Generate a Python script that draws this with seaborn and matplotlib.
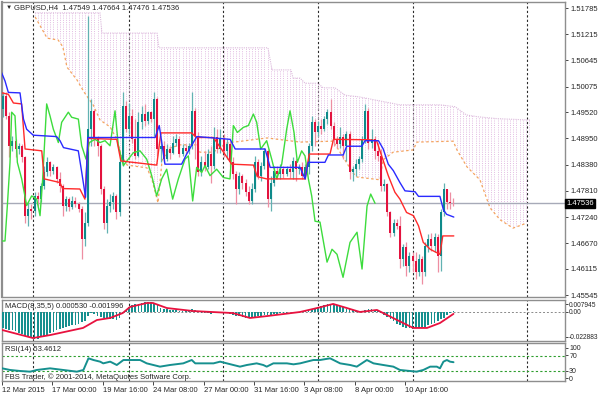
import matplotlib
matplotlib.use('Agg')

import numpy as np
import matplotlib.pyplot as plt
import matplotlib.transforms as mtransforms
import seaborn as sns

# ==========================================
# DATA
# ==========================================
bar_open = [1.4959, 1.4988, 1.4944, 1.4879, 1.4890, 1.4872, 1.4879, 1.4854, 1.4727, 1.4741,
            1.4738, 1.4770, 1.4763, 1.4792, 1.4821, 1.4843, 1.4825, 1.4832, 1.4807, 1.4792,
            1.4749, 1.4763, 1.4745, 1.4759, 1.4752, 1.4741, 1.4676, 1.4712, 1.4915, 1.4955,
            1.4893, 1.4879, 1.4785, 1.4712, 1.4749, 1.4756, 1.4770, 1.4734, 1.4843, 1.4966,
            1.4915, 1.4944, 1.4893, 1.4857, 1.4930, 1.4948, 1.4933, 1.4952, 1.4937, 1.4981,
            1.4872, 1.4879, 1.4850, 1.4872, 1.4864, 1.4886, 1.4893, 1.4861, 1.4875, 1.4868,
            1.4879, 1.4955, 1.4901, 1.4821, 1.4843, 1.4832, 1.4861, 1.4836, 1.4897, 1.4872,
            1.4893, 1.4868, 1.4883, 1.4843, 1.4817, 1.4785, 1.4814, 1.4799, 1.4778, 1.4759,
            1.4785, 1.4843, 1.4814, 1.4836, 1.4868, 1.4763, 1.4799, 1.4825, 1.4817, 1.4828,
            1.4817, 1.4828, 1.4821, 1.4846, 1.4828, 1.4832, 1.4814, 1.4832, 1.4879, 1.4930,
            1.4908, 1.4923, 1.4915, 1.4937, 1.4952, 1.4923, 1.4893, 1.4883, 1.4897, 1.4879,
            1.4904, 1.4821, 1.4828, 1.4839, 1.4850, 1.4893, 1.4955, 1.4886, 1.4893, 1.4868,
            1.4857, 1.4792, 1.4796, 1.4734, 1.4690, 1.4712, 1.4705, 1.4633, 1.4658, 1.4618,
            1.4640, 1.4629, 1.4604, 1.4633, 1.4604, 1.4662, 1.4676, 1.4662, 1.4680, 1.4640,
            1.4734, 1.4785, 1.4756, 1.47549]
bar_high = [1.4995, 1.4995, 1.4952, 1.4901, 1.4893, 1.4886, 1.4883, 1.4857, 1.4756, 1.4752,
            1.4778, 1.4778, 1.4799, 1.4836, 1.4854, 1.4846, 1.4839, 1.4836, 1.4821, 1.4796,
            1.4770, 1.4767, 1.4770, 1.4767, 1.4756, 1.4749, 1.4734, 1.5161, 1.4981, 1.4959,
            1.4901, 1.4883, 1.4792, 1.4763, 1.4774, 1.4778, 1.4774, 1.4850, 1.4995, 1.4977,
            1.4973, 1.4959, 1.4937, 1.4952, 1.4966, 1.4970, 1.4955, 1.4955, 1.4995, 1.4984,
            1.4893, 1.4890, 1.4883, 1.4879, 1.4901, 1.4904, 1.4901, 1.4883, 1.4883, 1.4886,
            1.4995, 1.4962, 1.4908, 1.4857, 1.4868, 1.4872, 1.4879, 1.4919, 1.4915, 1.4915,
            1.4904, 1.4893, 1.4890, 1.4854, 1.4825, 1.4821, 1.4817, 1.4807, 1.4792, 1.4799,
            1.4857, 1.4850, 1.4843, 1.4875, 1.4872, 1.4814, 1.4836, 1.4836, 1.4839, 1.4836,
            1.4836, 1.4839, 1.4854, 1.4850, 1.4839, 1.4843, 1.4839, 1.4886, 1.4944, 1.4937,
            1.4933, 1.4937, 1.4944, 1.4959, 1.4981, 1.4930, 1.4901, 1.4919, 1.4904, 1.4912,
            1.4912, 1.4836, 1.4850, 1.4857, 1.4901, 1.4970, 1.4962, 1.4915, 1.4901, 1.4886,
            1.4872, 1.4807, 1.4799, 1.4738, 1.4720, 1.4720, 1.4727, 1.4665, 1.4669, 1.4647,
            1.4647, 1.4647, 1.4643, 1.4640, 1.4669, 1.4687, 1.4690, 1.4690, 1.4687, 1.4741,
            1.4799, 1.4785, 1.4778, 1.47664]
bar_low = [1.4941, 1.4937, 1.4854, 1.4868, 1.4854, 1.4861, 1.4843, 1.4712, 1.4705, 1.4720,
           1.4727, 1.4749, 1.4756, 1.4785, 1.4814, 1.4814, 1.4817, 1.4799, 1.4778, 1.4727,
           1.4738, 1.4738, 1.4741, 1.4745, 1.4734, 1.4633, 1.4662, 1.4705, 1.4879, 1.4879,
           1.4857, 1.4774, 1.4698, 1.4690, 1.4734, 1.4741, 1.4720, 1.4727, 1.4836, 1.4908,
           1.4904, 1.4886, 1.4850, 1.4854, 1.4915, 1.4923, 1.4926, 1.4930, 1.4901, 1.4857,
           1.4843, 1.4843, 1.4846, 1.4850, 1.4861, 1.4879, 1.4854, 1.4857, 1.4861, 1.4861,
           1.4872, 1.4850, 1.4814, 1.4814, 1.4825, 1.4828, 1.4799, 1.4828, 1.4864, 1.4864,
           1.4854, 1.4850, 1.4832, 1.4807, 1.4752, 1.4774, 1.4785, 1.4770, 1.4752, 1.4752,
           1.4778, 1.4807, 1.4803, 1.4828, 1.4745, 1.4738, 1.4792, 1.4807, 1.4807, 1.4810,
           1.4814, 1.4810, 1.4807, 1.4803, 1.4817, 1.4807, 1.4807, 1.4817, 1.4868, 1.4879,
           1.4901, 1.4904, 1.4912, 1.4926, 1.4915, 1.4879, 1.4875, 1.4875, 1.4850, 1.4846,
           1.4807, 1.4803, 1.4814, 1.4828, 1.4843, 1.4886, 1.4872, 1.4875, 1.4850, 1.4846,
           1.4781, 1.4781, 1.4727, 1.4680, 1.4683, 1.4698, 1.4614, 1.4618, 1.4596, 1.4604,
           1.4604, 1.4589, 1.4596, 1.4578, 1.4596, 1.4647, 1.4651, 1.4647, 1.4604, 1.4607,
           1.4727, 1.4741, 1.4741, 1.47476]
bar_close = [1.4988, 1.4944, 1.4879, 1.4890, 1.4872, 1.4879, 1.4854, 1.4727, 1.4741, 1.4738,
             1.4770, 1.4763, 1.4792, 1.4821, 1.4843, 1.4825, 1.4832, 1.4807, 1.4792, 1.4749,
             1.4763, 1.4745, 1.4759, 1.4752, 1.4741, 1.4676, 1.4712, 1.4915, 1.4955, 1.4893,
             1.4879, 1.4785, 1.4712, 1.4749, 1.4756, 1.4770, 1.4734, 1.4843, 1.4966, 1.4915,
             1.4944, 1.4893, 1.4857, 1.4930, 1.4948, 1.4933, 1.4952, 1.4937, 1.4981, 1.4872,
             1.4879, 1.4850, 1.4872, 1.4864, 1.4886, 1.4893, 1.4861, 1.4875, 1.4868, 1.4879,
             1.4955, 1.4901, 1.4821, 1.4843, 1.4832, 1.4861, 1.4836, 1.4897, 1.4872, 1.4893,
             1.4868, 1.4883, 1.4843, 1.4817, 1.4785, 1.4814, 1.4799, 1.4778, 1.4759, 1.4785,
             1.4843, 1.4814, 1.4836, 1.4868, 1.4763, 1.4799, 1.4825, 1.4817, 1.4828, 1.4817,
             1.4828, 1.4821, 1.4846, 1.4828, 1.4832, 1.4814, 1.4832, 1.4879, 1.4930, 1.4908,
             1.4923, 1.4915, 1.4937, 1.4952, 1.4923, 1.4893, 1.4883, 1.4897, 1.4879, 1.4904,
             1.4821, 1.4828, 1.4839, 1.4850, 1.4893, 1.4955, 1.4886, 1.4893, 1.4868, 1.4857,
             1.4792, 1.4796, 1.4734, 1.4690, 1.4712, 1.4705, 1.4633, 1.4658, 1.4618, 1.4640,
             1.4629, 1.4604, 1.4633, 1.4604, 1.4662, 1.4676, 1.4662, 1.4680, 1.4640, 1.4734,
             1.4785, 1.4756, 1.47549, 1.47536]

# Ichimoku lines (bar position, price)
tenkan_bar = [-0.95, 1.69, 3.3, 5.9, 7.0, 12.3, 13.1, 18.1, 18.9, 24.4, 26.0, 27.0, 36.1, 37.4,
              48.8, 50.1, 59.9, 61.3, 66.8, 72.6, 79.5, 80.7, 83.7, 95.9, 97.2, 103.8, 104.9,
              116.5, 118.6, 120.2, 122.3, 124.4, 126.0, 128.1, 130.3, 131.9, 133.4, 135.6,
              138.7, 139.6, 143.1]
tenkan_val = [1.4995, 1.4991, 1.4972, 1.4970, 1.4872, 1.4868, 1.4807, 1.4799, 1.4786, 1.4785,
              1.4763, 1.4895, 1.4893, 1.4846, 1.4837, 1.4907, 1.4907, 1.4897, 1.4897, 1.4839,
              1.4837, 1.4812, 1.4807, 1.4807, 1.4861, 1.4861, 1.4893, 1.4892, 1.4890, 1.4857,
              1.4814, 1.4778, 1.4763, 1.4734, 1.4727, 1.4705, 1.4669, 1.4654, 1.4643, 1.4683,
              1.4683]
kijun_bar = [-0.95, 0.63, 1.69, 5.4, 6.5, 7.5, 9.6, 17.0, 18.1, 19.2, 23.9, 25.0, 26.2, 26.9,
             48.3, 49.6, 51.4, 56.7, 58.3, 61.5, 72.1, 73.7, 83.2, 84.8, 94.3, 95.9, 96.9,
             102.2, 103.3, 108.0, 109.1, 113.9, 114.9, 119.2, 120.7, 122.3, 123.9, 126.0,
             127.6, 130.8, 131.9, 138.7, 139.8, 140.8, 143.1]
kijun_val = [1.5046, 1.5020, 1.4995, 1.4994, 1.4937, 1.4915, 1.4902, 1.4899, 1.4890, 1.4875,
             1.4868, 1.4821, 1.4767, 1.4897, 1.4897, 1.4923, 1.4839, 1.4839, 1.4861, 1.4899,
             1.4893, 1.4872, 1.4872, 1.4832, 1.4832, 1.4807, 1.4843, 1.4843, 1.4859, 1.4859,
             1.4878, 1.4878, 1.4890, 1.4890, 1.4872, 1.4839, 1.4825, 1.4799, 1.4781, 1.4779,
             1.4769, 1.4769, 1.4740, 1.4730, 1.4724]
chikou_bar = [-0.95, 0.63, 1.38, 2.22, 2.75, 3.81, 4.55, 5.93, 7.51, 9.10,
              10.69, 11.75, 12.59, 13.86, 14.92, 15.98, 17.57, 18.62, 20.74, 21.80,
              23.92, 24.97, 26.35, 27.41, 29.21, 30.79, 32.38, 33.97, 35.56, 36.61,
              38.20, 39.79, 41.38, 43.49, 45.61, 47.20, 48.78, 50.37, 51.96, 53.86,
              55.66, 57.78, 58.84, 60.21, 61.48, 63.07, 64.13, 65.71, 67.83, 69.95,
              72.06, 73.12, 74.39, 76.30, 77.88, 79.47, 80.53, 81.80, 83.70, 85.29,
              86.88, 88.47, 90.05, 91.11, 92.38, 93.44, 94.81, 95.87, 96.93, 97.99,
              99.05, 100.63, 102.86, 104.44, 106.03, 107.94, 110.16, 112.38, 113.97, 115.56,
              116.72, 118.10]
chikou_val = [1.4672, 1.4672, 1.4749, 1.4843, 1.4952, 1.4944, 1.4843, 1.4807, 1.4749, 1.4770,
              1.4763, 1.4727, 1.4807, 1.4970, 1.4944, 1.4915, 1.4886, 1.4930, 1.4952, 1.4941,
              1.4937, 1.4879, 1.4850, 1.4886, 1.4893, 1.4886, 1.4890, 1.4879, 1.4955, 1.4879,
              1.4836, 1.4850, 1.4864, 1.4868, 1.4850, 1.4814, 1.4770, 1.4807, 1.4828, 1.4763,
              1.4807, 1.4850, 1.4857, 1.4759, 1.4832, 1.4821, 1.4836, 1.4814, 1.4828, 1.4810,
              1.4807, 1.4923, 1.4908, 1.4919, 1.4923, 1.4948, 1.4930, 1.4872, 1.4890, 1.4850,
              1.4807, 1.4839, 1.4915, 1.4955, 1.4908, 1.4843, 1.4868, 1.4857, 1.4807, 1.4770,
              1.4715, 1.4713, 1.4626, 1.4654, 1.4643, 1.4593, 1.4669, 1.4691, 1.4611, 1.4748,
              1.4774, 1.4754]
span_a_bar = [10.2, 14.0, 17.5, 19.0, 20.3, 23.5, 25.7, 28.6, 30.8, 34.0,
              36.2, 37.5, 39.4, 45.7, 47.3, 49.2, 50.5, 53.0, 56.2, 61.6,
              62.5, 66.7, 71.1, 83.8, 94.3, 104.8, 107.9, 111.1, 112.4, 119.7,
              120.6, 123.8, 130.2, 131.4, 142.9, 144.1, 147.3, 151.4, 154.6, 157.8,
              161.9, 166.3]
span_a_val = [1.5159, 1.5113, 1.5109, 1.5094, 1.5050, 1.5022, 1.4996, 1.4968, 1.4935, 1.4920,
              1.4892, 1.4859, 1.4837, 1.4831, 1.4805, 1.4755, 1.4848, 1.4874, 1.4881, 1.4881,
              1.4865, 1.4865, 1.4885, 1.4896, 1.4887, 1.4889, 1.4855, 1.4820, 1.4811, 1.4805,
              1.4848, 1.4865, 1.4870, 1.4887, 1.4889, 1.4870, 1.4833, 1.4805, 1.4744, 1.4718,
              1.4700, 1.4711]
span_b_bar = [10.2, 30.8, 31.4, 48.9, 49.5, 84.1, 85.4, 91.4, 92.1, 94.3, 95.9, 100.0,
              101.6, 105.4, 108.6, 113.3, 126.0, 138.7, 143.5, 147.1, 150.8, 156.8, 167.3]
span_b_val = [1.5168, 1.5168, 1.5124, 1.5124, 1.5092, 1.5092, 1.5044, 1.5044, 1.5026, 1.5026,
              1.5015, 1.5015, 1.5005, 1.5005, 1.4989, 1.4985, 1.4968, 1.4968, 1.4964, 1.4946,
              1.4942, 1.4938, 1.4935]

# MACD(8,35,5): histogram per bar + signal line
macd_main = [-0.0140, -0.0145, -0.0150, -0.0155, -0.0165, -0.0175, -0.0185, -0.0200, -0.0215, -0.0224,
             -0.0229, -0.0225, -0.0215, -0.0205, -0.0195, -0.0180, -0.0170, -0.0155, -0.0145, -0.0135,
             -0.0125, -0.0120, -0.0115, -0.0110, -0.0100, -0.0090, -0.0080, -0.0040, -0.0015, -0.0020,
             -0.0035, -0.0045, -0.0055, -0.0055, -0.0060, -0.0065, -0.0070, -0.0050, -0.0015, 0.0015,
             0.0040, 0.0055, 0.0060, 0.0065, 0.0068, 0.0075, 0.0079, 0.0075, 0.0070, 0.0050,
             0.0030, 0.0025, 0.0020, 0.0015, 0.0010, 0.0010, 0.0008, 0.0005, 0.0008, 0.0015,
             0.0022, 0.0015, 0.0000, -0.0010, -0.0015, -0.0015, -0.0020, -0.0015, -0.0005, -0.0003,
             -0.0005, -0.0010, -0.0020, -0.0030, -0.0035, -0.0040, -0.0045, -0.0050, -0.0055, -0.0055,
             -0.0045, -0.0040, -0.0035, -0.0030, -0.0030, -0.0025, -0.0020, -0.0020, -0.0015, -0.0010,
             -0.0010, -0.0005, -0.0005, 0.0000, 0.0000, 0.0003, 0.0005, 0.0010, 0.0020, 0.0028,
             0.0035, 0.0045, 0.0055, 0.0063, 0.0065, 0.0060, 0.0055, 0.0045, 0.0035, 0.0025,
             0.0018, 0.0010, 0.0005, 0.0003, 0.0005, 0.0012, 0.0018, 0.0020, 0.0015, 0.0005,
             -0.0015, -0.0030, -0.0045, -0.0065, -0.0080, -0.0100, -0.0115, -0.0125, -0.0135, -0.0140,
             -0.0143, -0.0140, -0.0135, -0.0130, -0.0125, -0.0115, -0.0105, -0.0095, -0.0080, -0.0065,
             -0.0050, -0.0030, -0.0015, 0.00053]
signal_bar = [-0.3, 9.5, 15.0, 25.4, 29.8, 34.0, 38.0, 40.3, 45.7, 47.6, 52.0, 60.3, 73.0,
              78.4, 83.8, 94.3, 99.7, 104.8, 108.0, 113.3, 118.7, 123.8, 130.2, 134.6, 138.7, 143.0]
signal_val = [-0.0154, -0.0221, -0.0196, -0.0137, -0.0071, -0.0054, -0.0013, 0.0038, 0.0071,
              0.0071, 0.0029, 0.0004, -0.0013, -0.0054, -0.0038, -0.0004, 0.0029, 0.0063, 0.0038,
              -0.0004, 0.0013, -0.0054, -0.0137, -0.0137, -0.0096, -0.001996]

# RSI(14)
rsi_bar = [-0.3, 2.2, 5.4, 8.6, 10.7, 14.9, 19.1, 23.4, 25.5, 27.1, 28.7, 30.8, 31.8, 34.0,
           36.1, 38.2, 40.3, 43.5, 45.6, 47.7, 49.8, 53.0, 57.2, 59.9, 61.0, 63.6, 66.8, 68.9,
           73.1, 75.2, 77.4, 80.5, 82.6, 83.7, 85.8, 90.1, 92.2, 94.3, 96.4, 98.5, 100.6, 103.8,
           104.9, 107.0, 110.2, 112.3, 115.5, 117.6, 120.7, 123.9, 126.0, 129.2, 131.3, 133.4,
           135.6, 137.7, 138.7, 139.8, 140.9, 141.9, 143.0]
rsi_val = [37.1, 32.7, 30.0, 28.2, 32.7, 37.1, 32.7, 28.2, 32.7, 63.8, 59.3, 54.9, 50.4, 54.9,
           46.0, 59.3, 59.3, 59.3, 50.4, 46.0, 41.6, 46.0, 50.4, 59.3, 50.4, 50.4, 50.4, 54.9,
           46.0, 41.6, 46.0, 50.4, 46.0, 41.6, 50.4, 50.4, 47.8, 50.4, 54.9, 59.3, 59.3, 63.8,
           59.3, 50.4, 46.0, 41.6, 59.3, 50.4, 46.0, 41.6, 32.7, 30.0, 28.2, 32.7, 41.6, 41.6,
           37.1, 54.9, 59.3, 54.9, 53.46]

price_ticks = [1.51785, 1.51215, 1.50645, 1.50075, 1.49520, 1.48950,
               1.48380, 1.47810, 1.47240, 1.46670, 1.46115, 1.45545]
price_labels = ['1.51785', '1.51215', '1.50645', '1.50075', '1.49520', '1.48950',
                '1.48380', '1.47810', '1.47240', '1.46670', '1.46115', '1.45545']
time_bars = [0, 16, 32, 48, 64, 80, 96, 112, 128]
time_labels = ['12 Mar 2015', '17 Mar 00:00', '19 Mar 16:00', '24 Mar 08:00', '27 Mar 00:00',
               '31 Mar 16:00', '3 Apr 08:00', '8 Apr 00:00', '10 Apr 16:00']
last_price = 1.47536

# ==========================================
# STYLE / LAYOUT
# ==========================================
sns.set_style('white')
plt.rcParams['font.family'] = ['Liberation Sans', 'DejaVu Sans']

BULL, BULL_WICK = '#0e8a8a', '#62b2b2'
BEAR, BEAR_WICK = '#e3123e', '#ee8ea2'
FRAME = '#8e8e8e'
FS = 5.5
GRID_AT = [9.5, 40, 69.8, 100, 130.2, 166.3]
XLIM = (-0.32, 178.4)

W, H = 600, 398


def box(top, bottom, left=2, right=565):
    return [left / W, 1 - bottom / H, (right - left) / W, (bottom - top) / H]


def line(axis, xs, ys, color, lw=1.0, **kw):
    sns.lineplot(x=xs, y=ys, ax=axis, color=color, linewidth=lw,
                 estimator=None, errorbar=None, legend=False, **kw)


fig = plt.figure(figsize=(6, 3.98), dpi=100)
ax = fig.add_axes(box(2, 297))
ax_m = fig.add_axes(box(300, 341))
ax_r = fig.add_axes(box(343, 381))

x = np.arange(len(bar_close))

# --- cloud (dotted hatch clipped to span A / span B polygon) ---
cloud = ax.fill(np.r_[span_a_bar, span_b_bar[::-1]], np.r_[span_a_val, span_b_val[::-1]],
                facecolor='none', edgecolor='none')[0]
dots = ax.vlines(np.arange(9, 169), 1.45, 1.53, colors='#e2bce2', lw=0.7,
                 linestyles=(0, (1, 1.3)), zorder=1)
dots.set_clip_path(cloud)
line(ax, span_a_bar, span_a_val, '#f4a460', 0.9, linestyle=(0, (2, 2)), zorder=1.5)
line(ax, span_b_bar, span_b_val, '#dcbadc', 0.8, linestyle=(0, (1, 1)), zorder=1.5)

# --- candles ---
o, h, l, c = map(np.array, (bar_open, bar_high, bar_low, bar_close))
up = c >= o
body_lo = np.minimum(o, c)
body_h = np.maximum(np.abs(c - o), 0.00007)
for m, body, wick in ((up, BULL, BULL_WICK), (~up, BEAR, BEAR_WICK)):
    ax.vlines(x[m], l[m], h[m], color=wick, lw=0.9, zorder=3)
    ax.bar(x[m], body_h[m], bottom=body_lo[m], width=0.64, color=body, lw=0, zorder=3.5)

ax.axhline(last_price, color='#a7aab8', lw=1.0, zorder=2.5)

line(ax, chikou_bar, chikou_val, '#3ddc3d', 1.0, zorder=4)
line(ax, tenkan_bar, tenkan_val, '#ff2a2a', 1.0, zorder=4.2)
line(ax, kijun_bar, kijun_val, '#2a2aff', 1.0, zorder=4.4)

ax.set_ylim(1.45502, 1.51916)
ax.set_yticks(price_ticks, labels=price_labels)

trans = mtransforms.blended_transform_factory(ax.transAxes, ax.transData)
ax.text(1.002, last_price, '1.47536', transform=trans, ha='left', va='center', fontsize=FS,
        color='white', clip_on=False, zorder=6,
        bbox=dict(facecolor='black', edgecolor='black', pad=1.0))
ax.text(0.006, 0.98, '\u25BC', transform=ax.transAxes, fontsize=4.5, va='center', ha='left')
ax.text(0.021, 0.98, 'GBPUSD,H4  1.47549 1.47664 1.47476 1.47536', transform=ax.transAxes,
        fontsize=FS, va='center', ha='left')

# --- MACD ---
ax_m.bar(x, macd_main, width=0.55, color='#16908f', lw=0, zorder=3)
ax_m.axhline(0, color='#8a8a8a', lw=0.7, ls=(0, (2, 2)), zorder=2)
line(ax_m, signal_bar, signal_val, '#e8123f', 1.3, zorder=4)
ax_m.set_ylim(-0.02457, 0.00958)
ax_m.text(0.0053, 0.83, 'MACD(8,35,5) 0.000530 -0.001996', transform=ax_m.transAxes,
          fontsize=FS, va='center', ha='left', zorder=6)

# --- RSI ---
for lvl in (30, 70):
    ax_r.axhline(lvl, color='#2e9e2e', lw=0.8, ls=(0, (2, 2)), zorder=2)
line(ax_r, rsi_bar, rsi_val, '#16908f', 1.4, zorder=4)
ax_r.set_ylim(3.3, 104.7)
ax_r.text(0.0053, 0.82, 'RSI(14) 53.4612', transform=ax_r.transAxes,
          fontsize=FS, va='center', ha='left', zorder=6)
ax_r.text(0.0053, 0.105, 'FBS Trader, \u00A9 2001-2014, MetaQuotes Software Corp.',
          transform=ax_r.transAxes, fontsize=FS, va='center', ha='left', zorder=6)

# --- shared frame styling ---
for a in (ax, ax_m, ax_r):
    a.set_xlim(*XLIM)
    for g in GRID_AT:
        a.axvline(g, color='#2a2a2a', lw=0.8, ls=(0, (2, 2)), zorder=0.5)
    for s in a.spines.values():
        s.set_color(FRAME)
        s.set_linewidth(1.0)
    a.yaxis.tick_right()
    a.tick_params(axis='y', length=2.5, width=0.7, color='#444444', labelsize=FS, pad=1.5)
    a.tick_params(axis='x', bottom=False, labelbottom=False)
    a.set_xlabel('')
    a.set_ylabel('')
ax.spines['left'].set_linewidth(1.6)

# sub-window scale labels sit a little tighter to fit the right margin
ax_m.set_yticks([0.0060, 0.0, -0.0212], labels=['0.007945', '0.00', '-0.022883'])
ax_m.tick_params(axis='y', length=2, labelsize=4.8, pad=1)
ax_r.set_yticks([92.5, 72.0, 30, 11.3], labels=['100', '70', '30', '0'])
ax_r.tick_params(axis='y', length=2, labelsize=5, pad=1)

ax_r.set_xticks(np.array(time_bars) - 0.35, labels=time_labels)
ax_r.tick_params(axis='x', bottom=True, labelbottom=True, length=3, width=0.7,
                 color='#444444', labelsize=FS, pad=1.5)
plt.setp(ax_r.get_xticklabels(), ha='left')

fig.savefig('out.png', dpi=100)
